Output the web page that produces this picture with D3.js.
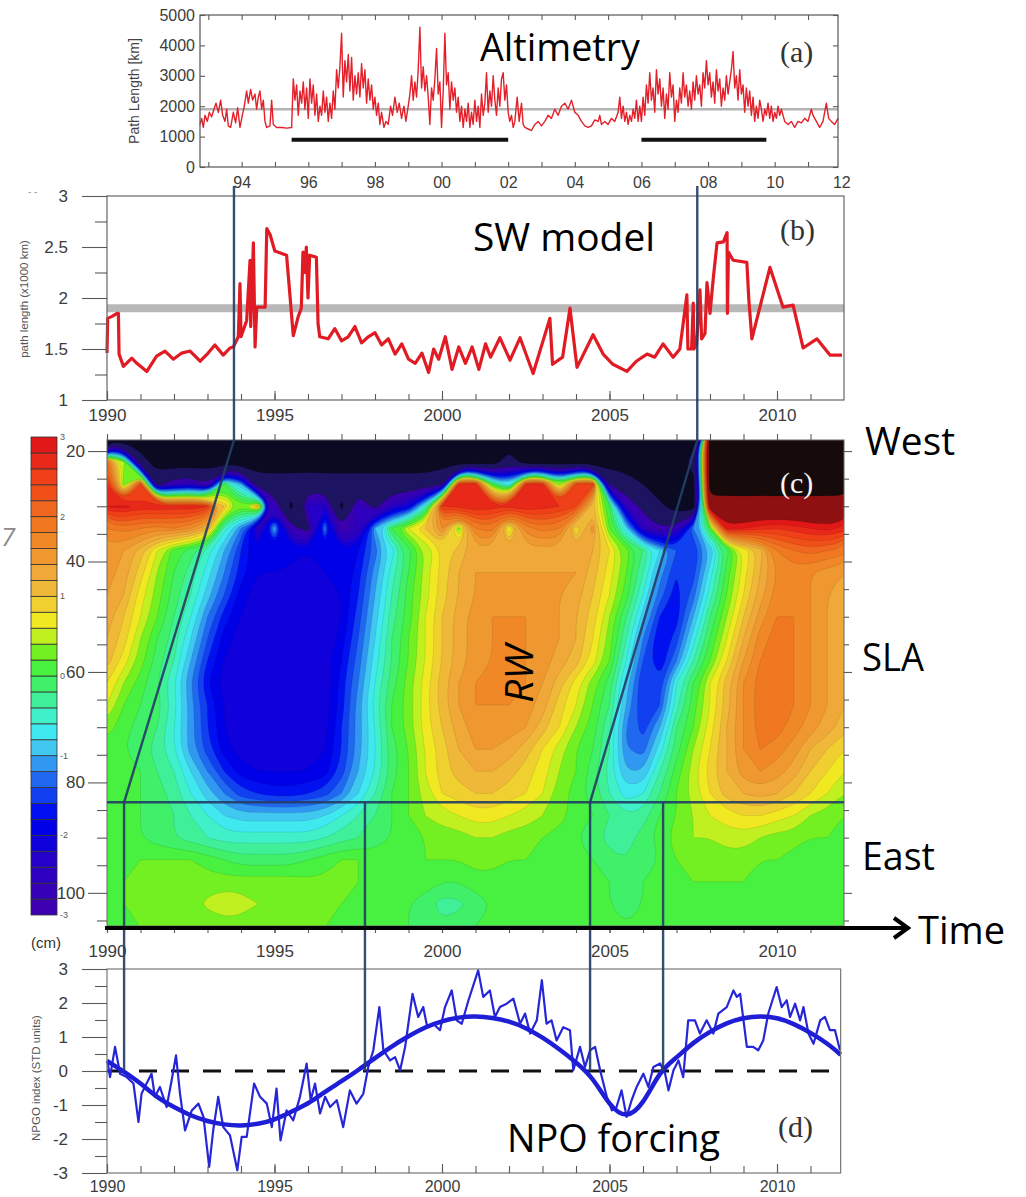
<!DOCTYPE html>
<html>
<head>
<meta charset="utf-8">
<script src="https://cdn.jsdelivr.net/npm/d3@7"></script>
<style>
  body { margin: 0; background: #fff; }
  svg { display: block; }
</style>
</head>
<body>
<svg id="chart" width="1026" height="1197"></svg>
<script>
// ---------- DATA ----------

// (a) altimetry path length [year, km]
const altimetry = [
  [1992.75,1400],[1992.8,1600],[1992.85,1300],[1992.9,1700],[1992.97,1500],[1993.03,1800],[1993.1,1650],[1993.17,1900],
  [1993.23,2100],[1993.3,1800],[1993.37,2200],[1993.43,1700],[1993.5,1500],[1993.55,1900],[1993.6,1350],[1993.67,1300],
  [1993.75,1800],[1993.82,1450],[1993.88,1950],[1993.95,1300],[1994.02,1700],[1994.08,2000],[1994.15,2500],[1994.2,2100],
  [1994.27,2550],[1994.33,2200],[1994.4,2400],[1994.45,1900],[1994.5,2300],[1994.55,2500],[1994.6,1900],[1994.65,2200],
  [1994.7,1500],[1994.75,1300],[1994.85,1350],[1994.9,2200],[1994.95,1400],[1995.05,1300],[1995.2,1300],[1995.35,1280],
  [1995.5,1300],[1995.55,2900],[1995.6,2200],[1995.65,2700],[1995.7,1700],[1995.75,2500],[1995.8,2100],[1995.85,2800],
  [1995.9,1900],[1995.95,2600],[1996.0,1600],[1996.05,2900],[1996.1,2100],[1996.15,2700],[1996.2,1700],[1996.25,2400],
  [1996.3,1500],[1996.35,2000],[1996.4,1700],[1996.45,2500],[1996.5,1800],[1996.55,2300],[1996.6,1500],[1996.65,2100],
  [1996.7,1600],[1996.75,2500],[1996.8,1900],[1996.85,3200],[1996.9,2600],[1996.95,3300],[1997.0,4400],[1997.05,2300],
  [1997.1,3500],[1997.15,2800],[1997.2,3700],[1997.25,2500],[1997.3,3600],[1997.35,2200],[1997.4,3000],[1997.45,2400],
  [1997.5,3100],[1997.55,2300],[1997.6,3400],[1997.65,2600],[1997.7,3200],[1997.75,2100],[1997.8,2900],[1997.85,2200],
  [1997.9,2700],[1997.95,1900],[1998.0,2300],[1998.05,1700],[1998.1,2100],[1998.15,1400],[1998.2,1800],[1998.27,1300],
  [1998.33,1500],[1998.4,1400],[1998.47,2000],[1998.53,1700],[1998.6,2300],[1998.67,1800],[1998.73,2100],[1998.8,1600],
  [1998.87,2000],[1998.93,1500],[1999.0,2000],[1999.05,2400],[1999.1,3000],[1999.15,2200],[1999.2,2800],[1999.25,2300],
  [1999.3,3200],[1999.35,4600],[1999.4,2600],[1999.45,3300],[1999.5,2500],[1999.55,3000],[1999.6,2300],[1999.65,1400],
  [1999.7,2600],[1999.75,2200],[1999.8,2900],[1999.85,3900],[1999.9,2400],[1999.95,2800],[2000.0,1300],[2000.05,2500],
  [2000.1,4400],[2000.15,2700],[2000.2,3100],[2000.25,1900],[2000.3,2800],[2000.35,2200],[2000.4,2600],[2000.45,1800],
  [2000.5,2300],[2000.55,1500],[2000.6,2000],[2000.65,1300],[2000.7,1900],[2000.75,1500],[2000.8,2100],[2000.85,1300],
  [2000.9,1800],[2000.95,1400],[2001.0,2200],[2001.05,1500],[2001.1,2000],[2001.15,1300],[2001.2,2400],[2001.25,1700],
  [2001.3,2100],[2001.35,3100],[2001.4,1800],[2001.45,2500],[2001.5,2000],[2001.55,3000],[2001.6,2200],[2001.65,1700],
  [2001.7,2600],[2001.75,2000],[2001.8,2900],[2001.85,3100],[2001.9,2200],[2001.95,2700],[2002.0,1800],[2002.05,1500],
  [2002.1,1700],[2002.15,1300],[2002.2,1500],[2002.27,2300],[2002.33,1500],[2002.4,2100],[2002.45,1400],[2002.5,1300],
  [2002.6,1250],[2002.7,1200],[2002.8,1400],[2002.9,1500],[2003.0,1350],[2003.1,1500],[2003.2,1700],[2003.3,1600],
  [2003.4,1900],[2003.5,1700],[2003.6,2000],[2003.7,2100],[2003.8,1900],[2003.9,2200],[2004.0,1800],[2004.1,1700],
  [2004.2,1500],[2004.3,1350],[2004.4,1300],[2004.5,1350],[2004.6,1550],[2004.7,1500],[2004.75,1700],[2004.8,1400],
  [2004.9,1500],[2005.0,1400],[2005.1,1600],[2005.2,1500],[2005.3,1800],[2005.35,2300],[2005.4,1600],[2005.45,2000],
  [2005.5,1500],[2005.55,1800],[2005.6,1400],[2005.65,1700],[2005.7,1500],[2005.75,1900],[2005.8,1600],[2005.85,2200],
  [2005.9,1500],[2005.95,2000],[2006.0,1500],[2006.05,2300],[2006.1,1700],[2006.15,2700],[2006.2,2100],[2006.25,3100],
  [2006.3,2200],[2006.35,2600],[2006.4,1800],[2006.45,3200],[2006.5,2400],[2006.55,2900],[2006.6,2000],[2006.65,2600],
  [2006.7,1600],[2006.75,2400],[2006.8,1900],[2006.85,3100],[2006.9,2300],[2006.95,2700],[2007.0,1500],[2007.05,2200],
  [2007.1,1800],[2007.15,2600],[2007.2,2100],[2007.25,3100],[2007.3,2300],[2007.35,2700],[2007.4,2000],[2007.45,2500],
  [2007.5,1900],[2007.55,2800],[2007.6,2200],[2007.65,3000],[2007.7,2400],[2007.75,2700],[2007.8,2000],[2007.85,3100],
  [2007.9,2600],[2007.95,3500],[2008.0,2700],[2008.05,3100],[2008.1,2300],[2008.15,2800],[2008.2,2100],[2008.25,3200],
  [2008.3,2500],[2008.35,2900],[2008.4,2000],[2008.45,2600],[2008.5,2200],[2008.55,3000],[2008.6,2400],[2008.65,2800],
  [2008.7,3200],[2008.75,3800],[2008.8,2600],[2008.85,3000],[2008.9,2200],[2008.95,3200],[2009.0,2400],[2009.05,2700],
  [2009.1,1800],[2009.15,2600],[2009.2,2000],[2009.25,2500],[2009.3,1700],[2009.35,2300],[2009.4,1500],[2009.45,2000],
  [2009.5,1600],[2009.55,2200],[2009.6,1900],[2009.65,1500],[2009.7,1900],[2009.75,1700],[2009.8,2100],[2009.85,1600],
  [2009.9,2000],[2009.95,1500],[2010.0,1800],[2010.05,1600],[2010.1,2000],[2010.15,1700],[2010.2,1900],[2010.3,1500],
  [2010.4,1400],[2010.5,1500],[2010.6,1300],[2010.7,1500],[2010.8,1450],[2010.9,1600],[2011.0,1500],[2011.1,1900],
  [2011.15,1700],[2011.25,1500],[2011.35,1300],[2011.45,1500],[2011.55,2100],[2011.62,1600],[2011.7,1500],[2011.8,1400],
  [2011.9,1600]
];
const altMean = 1900;
const altBars = [[1995.5, 2002.0], [2006.0, 2009.75]];
const altBarLevel = 900;
const aKmTicks = [0, 1000, 2000, 3000, 4000, 5000];
const aYearLabels = [1994, 1996, 1998, 2000, 2002, 2004, 2006, 2008, 2010, 2012];

// (b) SW model path length [year, x1000 km]
const swModel = [
  [1990.0,1.46],[1990.02,1.80],[1990.15,1.82],[1990.3,1.85],[1990.34,1.85],[1990.36,1.45],[1990.49,1.33],[1990.74,1.41],
  [1990.89,1.36],[1991.19,1.28],[1991.48,1.43],[1991.73,1.48],[1991.98,1.40],[1992.23,1.46],[1992.48,1.48],[1992.78,1.38],
  [1993.02,1.46],[1993.22,1.54],[1993.47,1.44],[1993.67,1.51],[1993.77,1.52],[1993.92,1.62],[1993.97,2.14],[1994.0,1.62],
  [1994.17,1.78],[1994.27,2.37],[1994.29,1.72],[1994.37,2.54],[1994.42,1.52],[1994.47,1.91],[1994.72,1.91],[1994.77,2.68],
  [1994.87,2.62],[1995.01,2.46],[1995.36,2.42],[1995.46,2.03],[1995.56,1.63],[1995.71,1.82],[1995.8,1.9],[1995.85,2.45],
  [1995.9,2.25],[1995.95,2.5],[1996.0,2.0],[1996.05,2.42],[1996.25,2.4],[1996.3,1.75],[1996.35,1.62],[1996.6,1.6],
  [1996.8,1.7],[1997.0,1.58],[1997.2,1.62],[1997.4,1.72],[1997.6,1.56],[1997.8,1.62],[1998.0,1.66],[1998.2,1.54],
  [1998.4,1.6],[1998.6,1.45],[1998.8,1.55],[1999.0,1.4],[1999.2,1.36],[1999.4,1.46],[1999.6,1.27],[1999.75,1.5],
  [1999.9,1.4],[2000.1,1.62],[2000.3,1.3],[2000.5,1.52],[2000.7,1.36],[2000.9,1.52],[2001.1,1.3],[2001.3,1.55],
  [2001.45,1.42],[2001.73,1.61],[2002.03,1.39],[2002.33,1.61],[2002.72,1.26],[2003.22,1.80],[2003.3,1.35],[2003.6,1.42],
  [2003.82,1.90],[2004.03,1.32],[2004.51,1.64],[2004.81,1.45],[2005.1,1.35],[2005.52,1.28],[2005.8,1.38],[2006.12,1.45],
  [2006.35,1.42],[2006.6,1.55],[2006.9,1.42],[2007.1,1.5],[2007.31,2.03],[2007.34,1.5],[2007.45,1.5],[2007.5,1.95],
  [2007.52,1.5],[2007.6,1.55],[2007.7,2.08],[2007.75,1.6],[2007.85,1.65],[2007.91,2.15],[2008.0,1.85],[2008.1,2.2],
  [2008.21,2.54],[2008.4,2.55],[2008.51,2.64],[2008.52,1.85],[2008.55,2.45],[2008.69,2.37],[2009.1,2.35],[2009.16,1.98],
  [2009.25,1.6],[2009.79,2.3],[2010.18,1.91],[2010.48,1.93],[2010.78,1.51],[2011.19,1.6],[2011.58,1.44],[2011.94,1.44]
];
const swMean = 1.9;
const bTicks = [1, 1.5, 2, 2.5, 3];
const bMinor = [1.25, 1.75, 2.25, 2.75];

// (c) SLA Hovmoller grid: rows = longitude, columns = time (cm)
const slaYears = [1990, 1990.5, 1991, 1991.5, 1992, 1992.5, 1993, 1993.5, 1994, 1994.5, 1995, 1995.5, 1996, 1996.5,
  1997, 1997.5, 1998, 1998.5, 1999, 1999.5, 2000, 2000.5, 2001, 2001.5, 2002, 2002.5, 2003, 2003.5, 2004, 2004.5,
  2005, 2005.5, 2006, 2006.5, 2007, 2007.5, 2008, 2008.5, 2009, 2009.5, 2010, 2010.5, 2011, 2011.5, 2012];
const slaLon = [18, 22, 26, 30, 34, 38, 42, 46, 50, 54, 58, 62, 66, 70, 74, 78, 82, 86, 90, 94, 98, 102, 106];
const slaRows = [
  [-4.5,-4.5,-4.5,-4.5,-4.5,-4.5,-4.5,-4.5,-4.5,-4.5, -4.5,-4.5,-4.5,-4.5,-4.5,-4.5,-4.5,-4.5,-4.5,-4.5, -4.5,-4.5,-4.5,-4.5,-4.5,-4.5,-4.5,-4.5,-4.5,-4.5, -4.5,-4.5,-4.5,-4.5,-4.5,-4.5,4.5,4.5,4.5,4.5, 4.5,4.5,4.5,4.5,4.5],
  [2.0,0.5,-3.5,-4.5,-4.5,-4.5,-4.5,-4.5,-4.5,-4.5, -4.5,-4.5,-4.5,-4.5,-4.5,-4.5,-4.5,-4.5,-4.5,-4.5, -4.5,-4.5,-4.5,-4.5,-3.5,-4.5,-4.5,-4.5,-4.5,-4.5, -4.5,-4.5,-4.5,-4.5,-4.5,-3.6,4.5,4.5,4.5,4.5, 4.5,4.5,4.5,4.5,4.5],
  [2.6,0.2,2.4,-3.2,-2.6,-2.4,-3.0,0.0,-1.0,-3.5, -3.5,-3.5,-3.4,-3.5,-3.5,-3.5,-3.5,-3.5,-3.5,-3.5, -3.0,2.6,2.8,0.0,-0.8,2.6,2.7,0.3,2.4,2.5, -3.0,-3.5,-4.0,-4.5,-4.5,-4.5,4.5,4.5,4.5,4.5, 4.5,4.5,4.5,4.5,4.5],
  [2.8,2.9,2.7,2.8,2.7,2.8,2.6,1.0,0.2,1.2, -2.6,-4.2,-2.4,-2.2,-4.2,-2.5,-3.2,-2.4,-2.0,-0.5, 2.6,2.7,2.8,2.7,2.6,2.8,2.7,2.6,2.4,1.0, 0.0,-2.5,-3.2,-3.8,-4.5,-4.5,3.6,3.5,3.6,3.5, 3.6,3.5,3.6,3.5,3.6],
  [1.8,1.9,1.8,1.7,1.8,1.6,1.2,-0.5,-1.2,-2.5, -1.0,-2.8,-3.2,-1.2,-3.0,-2.6,-1.0,0.0,0.6,1.0, 1.6,0.3,1.8,1.9,0.6,1.7,1.9,1.8,0.8,1.5, 0.2,-0.8,-2.4,-3.0,-2.6,-1.2,0.1,2.9,2.8,2.7, 2.6,2.7,2.8,2.9,2.7],
  [1.5,1.4,1.1,0.6,0.1,-0.1,-0.5,-1.0,-1.6,-2.0, -2.0,-1.8,-2.0,-2.0,-2.0,-1.8,-1.3,-0.7,-0.1,0.4, 0.8,1.1,1.3,1.3,1.3,1.3,1.3,1.3,1.3,1.2, 0.8,0.3,-0.2,-0.8,-1.4,-1.6,-1.0,-0.1,0.6,1.1, 1.8,2.0,2.1,2.0,1.9],
  [1.5,1.3,0.9,0.4,0.0,-0.3,-0.7,-1.2,-1.7,-2.0, -2.0,-2.1,-2.1,-2.0,-2.0,-1.7,-1.1,-0.5,0.0,0.5, 0.9,1.2,1.4,1.4,1.4,1.4,1.4,1.4,1.4,1.1, 0.7,0.2,-0.4,-1.1,-1.6,-1.5,-0.7,0.1,0.7,1.2, 1.6,1.7,1.6,1.5,1.4],
  [1.4,1.2,0.7,0.3,-0.1,-0.4,-0.9,-1.4,-1.9,-2.1, -2.1,-2.1,-2.1,-2.1,-2.0,-1.6,-1.0,-0.4,0.1,0.5, 0.9,1.2,1.4,1.5,1.5,1.5,1.5,1.4,1.3,1.0, 0.6,0.1,-0.6,-1.3,-1.7,-1.3,-0.5,0.2,0.8,1.3, 1.7,1.7,1.6,1.4,1.3],
  [1.3,1.0,0.6,0.2,-0.2,-0.6,-1.2,-1.7,-2.0,-2.2, -2.2,-2.2,-2.2,-2.2,-2.0,-1.5,-0.9,-0.3,0.1,0.6, 1.0,1.3,1.5,1.6,1.6,1.6,1.5,1.4,1.2,0.9, 0.4,-0.2,-0.9,-1.6,-1.7,-1.0,-0.2,0.4,1.0,1.5, 1.8,1.8,1.6,1.4,1.3],
  [1.2,0.9,0.4,0.0,-0.3,-0.8,-1.4,-1.9,-2.1,-2.2, -2.2,-2.2,-2.2,-2.2,-1.9,-1.4,-0.8,-0.2,0.2,0.6, 1.0,1.3,1.5,1.6,1.7,1.6,1.5,1.4,1.2,0.8, 0.3,-0.4,-1.2,-1.8,-1.5,-0.7,0.0,0.6,1.2,1.7, 1.9,1.8,1.6,1.4,1.3],
  [1.1,0.7,0.3,-0.1,-0.4,-1.0,-1.6,-2.0,-2.2,-2.2, -2.2,-2.2,-2.2,-2.1,-1.8,-1.3,-0.7,-0.2,0.2,0.6, 1.0,1.3,1.5,1.6,1.7,1.6,1.5,1.3,1.1,0.7, 0.2,-0.6,-1.4,-1.8,-1.2,-0.4,0.2,0.8,1.4,1.8, 1.9,1.8,1.6,1.4,1.3],
  [0.8,0.4,0.1,-0.2,-0.6,-1.2,-1.8,-2.1,-2.2,-2.2, -2.2,-2.2,-2.2,-2.2,-1.7,-1.2,-0.6,-0.1,0.3,0.7, 1.1,1.4,1.6,1.7,1.7,1.6,1.4,1.1,0.7,0.3, -0.1,-0.9,-1.6,-1.5,-0.6,0.0,0.6,1.1,1.6,1.9, 1.9,1.8,1.6,1.4,1.2],
  [0.6,0.2,0.0,-0.1,-0.5,-1.1,-1.6,-2.0,-2.2,-2.2, -2.2,-2.2,-2.2,-2.1,-1.7,-1.1,-0.5,0.0,0.3,0.7, 1.1,1.4,1.6,1.6,1.6,1.5,1.3,0.9,0.6,0.2, -0.2,-1.0,-1.6,-1.4,-0.5,0.1,0.6,1.1,1.6,1.9, 1.9,1.8,1.6,1.4,1.2],
  [0.3,0.1,-0.1,-0.2,-0.6,-1.1,-1.6,-2.0,-2.2,-2.2, -2.2,-2.2,-2.2,-2.1,-1.6,-1.1,-0.6,0.0,0.3,0.7, 1.0,1.3,1.5,1.5,1.5,1.4,1.1,0.8,0.4,0.1, -0.4,-1.2,-1.5,-1.0,-0.2,0.2,0.7,1.2,1.6,1.9, 1.9,1.7,1.5,1.3,1.1],
  [0.1,0.0,-0.1,-0.3,-0.6,-1.1,-1.5,-1.9,-2.1,-2.1, -2.1,-2.1,-2.1,-2.0,-1.6,-1.1,-0.6,-0.1,0.2,0.6, 0.9,1.2,1.4,1.4,1.3,1.1,0.8,0.5,0.2,0.0, -0.4,-1.2,-1.3,-0.7,-0.1,0.4,0.8,1.2,1.6,1.8, 1.7,1.5,1.2,1.0,0.8],
  [0.1,0.0,0.0,-0.2,-0.4,-0.8,-1.2,-1.6,-1.9,-2.0, -2.0,-2.0,-2.0,-1.9,-1.5,-1.0,-0.6,-0.1,0.2,0.6, 0.9,1.1,1.2,1.2,1.1,0.9,0.7,0.4,0.2,-0.1, -0.5,-1.0,-1.0,-0.4,0.1,0.5,0.9,1.2,1.5,1.6, 1.5,1.3,1.0,0.8,0.6],
  [0.1,0.0,0.0,-0.1,-0.3,-0.6,-0.9,-1.2,-1.5,-1.6, -1.7,-1.7,-1.6,-1.5,-1.2,-0.8,-0.4,0.0,0.2,0.5, 0.8,0.9,1.0,1.0,0.9,0.8,0.6,0.3,0.1,-0.1, -0.4,-0.7,-0.6,-0.2,0.2,0.5,0.8,1.1,1.2,1.3, 1.2,1.0,0.8,0.6,0.4],
  [0.1,0.0,0.0,-0.1,-0.2,-0.4,-0.6,-0.8,-0.9,-0.9, -0.9,-0.9,-0.9,-0.8,-0.6,-0.4,-0.2,0.0,0.2,0.4, 0.5,0.6,0.7,0.7,0.6,0.5,0.4,0.3,0.1,0.0, -0.2,-0.4,-0.3,0.0,0.2,0.4,0.6,0.7,0.8,0.8, 0.7,0.6,0.4,0.3,0.2],
  [0.1,0.1,0.0,-0.1,-0.2,-0.3,-0.4,-0.5,-0.5,-0.5, -0.5,-0.5,-0.5,-0.4,-0.3,-0.2,-0.1,0.0,0.1,0.2, 0.3,0.3,0.4,0.4,0.3,0.3,0.2,0.1,0.0,-0.1, -0.3,-0.3,-0.1,0.1,0.3,0.4,0.4,0.5,0.5,0.4, 0.3,0.3,0.2,0.2,0.1],
  [0.1,0.15,0.2,0.2,0.2,0.2,0.1,0.0,-0.1,-0.1, -0.1,-0.1,0.0,0.1,0.2,0.2,0.1,0.1,0.1,0.2, 0.2,0.2,0.3,0.3,0.2,0.2,0.1,0.1,0.0,0.0, -0.1,-0.2,-0.1,0.0,0.2,0.3,0.3,0.3,0.3,0.2, 0.2,0.1,0.1,0.1,0.1],
  [0.1,0.2,0.25,0.25,0.25,0.3,0.3,0.3,0.3,0.3, 0.3,0.3,0.25,0.25,0.2,0.2,0.1,0.1,0.1,0.1, 0.0,0.0,0.1,0.1,0.1,0.1,0.1,0.1,0.1,0.1, 0.0,-0.1,0.0,0.1,0.1,0.2,0.2,0.2,0.2,0.15, 0.1,0.1,0.1,0.1,0.1],
  [0.1,0.2,0.25,0.25,0.3,0.3,0.45,0.55,0.5,0.4, 0.3,0.3,0.25,0.25,0.2,0.15,0.1,0.1,0.0,-0.1, -0.3,-0.25,-0.1,0.0,0.1,0.1,0.1,0.1,0.1,0.1, 0.0,-0.1,0.0,0.1,0.1,0.1,0.1,0.1,0.1,0.1, 0.1,0.1,0.1,0.1,0.1],
  [0.1,0.15,0.2,0.2,0.2,0.2,0.25,0.3,0.3,0.25, 0.2,0.2,0.2,0.2,0.15,0.1,0.1,0.1,0.0,-0.1, -0.15,-0.1,0.0,0.1,0.1,0.1,0.1,0.1,0.1,0.1, 0.1,0.0,0.1,0.1,0.1,0.1,0.1,0.1,0.1,0.1, 0.1,0.1,0.1,0.1,0.1]
];
const slaLevels = [-4, -3, -2.8, -2.6, -2.4, -2.2, -2, -1.8, -1.6, -1.4, -1.2, -1, -0.8, -0.6, -0.4, -0.2, 0,
  0.2, 0.4, 0.6, 0.8, 1, 1.2, 1.4, 1.6, 1.8, 2, 2.2, 2.4, 2.6, 2.8, 3, 4];
const levelColors = ["#1c1460", "#3c00b0", "#3600b8", "#2e00c0", "#2400c8", "#1000dc", "#0000e8", "#0010f0", "#1040f0",
  "#2068f0", "#3098f0", "#40c8f0", "#40e8f0", "#40f0c8", "#40f098", "#40f068", "#48f040", "#72f022", "#c0f020",
  "#f0e820", "#f0d030", "#f0b838", "#f0a838", "#f09830", "#f08828", "#f07820", "#f06820", "#f05018", "#f04018",
  "#e82818", "#e01818", "#8e1010", "#160a0a"];
const belowColor = "#0a0a22";
const cLonTicks = [20, 40, 60, 80, 100];
const cLonMinor = [25, 30, 35, 45, 50, 55, 65, 70, 75, 85, 90, 95, 105];
const barTicks = [-3, -2, -1, 0, 1, 2, 3];

// (d) NPGO index [year, STD units]
const npgo = [
  [1990.01,0.31],[1990.09,-0.18],[1990.24,0.71],[1990.39,-0.08],[1990.59,-0.18],[1990.79,-0.37],[1990.94,-1.5],[1991.03,-0.67],
  [1991.18,-0.37],[1991.33,-0.08],[1991.43,-0.76],[1991.58,-0.47],[1991.78,-1.06],[1991.93,-0.27],[1992.06,0.46],[1992.18,-0.67],
  [1992.33,-1.75],[1992.53,-1.16],[1992.73,-0.96],[1992.88,-1.35],[1993.05,-2.82],[1993.17,-1.75],[1993.32,-0.76],[1993.47,-1.65],
  [1993.67,-1.89],[1993.89,-2.92],[1994.02,-1.94],[1994.17,-1.94],[1994.39,-0.37],[1994.57,-0.76],[1994.77,-0.96],[1994.92,-1.65],
  [1995.06,-0.52],[1995.18,-2.04],[1995.36,-1.16],[1995.56,-1.45],[1995.76,-0.76],[1995.96,0.22],[1996.08,-0.86],[1996.21,-0.37],
  [1996.36,-1.25],[1996.51,-0.76],[1996.66,-1.06],[1996.86,-0.86],[1997.05,-1.65],[1997.25,-0.57],[1997.45,-0.96],[1997.65,-0.67],
  [1997.8,0.12],[1997.95,0.61],[1998.13,1.88],[1998.25,0.61],[1998.45,0.31],[1998.6,0.41],[1998.75,0.02],[1998.9,0.71],
  [1999.12,2.27],[1999.29,1.59],[1999.44,1.88],[1999.56,1.29],[1999.74,1.39],[1999.94,1.2],[2000.09,1.88],[2000.29,2.37],
  [2000.44,1.49],[2000.59,1.39],[2000.79,2.08],[2001.08,2.96],[2001.23,2.18],[2001.43,2.37],[2001.58,1.59],[2001.73,1.88],
  [2001.93,1.98],[2002.13,2.13],[2002.33,1.39],[2002.48,1.69],[2002.63,1.1],[2002.83,1.49],[2002.98,2.67],[2003.12,1.39],
  [2003.27,1.49],[2003.42,0.9],[2003.62,1.29],[2003.82,1.2],[2003.92,0.02],[2004.12,0.71],[2004.27,0.12],[2004.42,0.61],
  [2004.57,0.71],[2004.72,0.02],[2004.92,-0.76],[2005.07,-1.16],[2005.21,-1.06],[2005.36,-0.57],[2005.51,-1.35],[2005.66,-0.86],
  [2005.81,-0.47],[2006.01,-0.08],[2006.16,-0.47],[2006.31,0.12],[2006.51,0.22],[2006.66,-0.08],[2006.76,-0.57],[2006.91,0.02],
  [2007.06,0.31],[2007.2,-0.18],[2007.35,1.49],[2007.55,1.49],[2007.7,1.1],[2007.9,1.49],[2008.1,1.1],[2008.25,1.69],
  [2008.5,1.88],[2008.7,2.37],[2008.8,2.18],[2008.9,2.27],[2009.1,0.71],[2009.29,0.71],[2009.44,0.61],[2009.59,0.9],
  [2009.74,1.69],[2009.99,2.47],[2010.14,1.88],[2010.29,2.08],[2010.39,1.59],[2010.54,1.98],[2010.69,1.49],[2010.79,1.88],
  [2010.94,1.1],[2011.09,0.8],[2011.29,1.49],[2011.43,1.59],[2011.58,1.2],[2011.73,1.2],[2011.88,0.61]
];
const npgoSmooth = [
  [1990.0,0.3],[1990.5,-0.02],[1991.0,-0.37],[1991.5,-0.76],[1992.0,-1.06],[1992.5,-1.3],[1993.0,-1.47],[1993.5,-1.57],
  [1994.0,-1.6],[1994.5,-1.55],[1995.0,-1.42],[1995.5,-1.2],[1996.0,-0.95],[1996.5,-0.62],[1997.0,-0.3],[1997.5,0.03],
  [1998.0,0.38],[1998.5,0.72],[1999.0,1.02],[1999.5,1.28],[2000.0,1.46],[2000.5,1.57],[2001.0,1.6],[2001.5,1.56],
  [2002.0,1.45],[2002.5,1.26],[2003.0,0.98],[2003.5,0.64],[2004.0,0.25],[2004.5,-0.25],[2005.0,-0.95],[2005.5,-1.28],
  [2006.0,-0.9],[2006.5,-0.1],[2007.0,0.4],[2007.5,0.82],[2008.0,1.15],[2008.5,1.4],[2009.0,1.55],[2009.5,1.6],
  [2010.0,1.55],[2010.5,1.38],[2011.0,1.12],[2011.5,0.8],[2011.9,0.48]
];
const dTicks = [-3, -2, -1, 0, 1, 2, 3];
const dMinor = [-2.5, -1.5, -0.5, 0.5, 1.5, 2.5];
const tYearLabels = [1990, 1995, 2000, 2005, 2010];
const tYears = [1990, 1991, 1992, 1993, 1994, 1995, 1996, 1997, 1998, 1999, 2000, 2001, 2002, 2003, 2004, 2005,
  2006, 2007, 2008, 2009, 2010, 2011];

// annotation: propagation lines (start year at the top, year where they hit the east line)
const linkLon = 83.6;
const lagLines = [{ start: 1993.79, end: 1990.51 }, { start: 2007.62, end: 2004.42 }];
const dropYears = [1997.7, 2006.6];

if (slaRows.some(r => r.length !== slaYears.length) || slaRows.length !== slaLon.length) throw new Error("grid size");

// ---------- SCALES ----------
const svg = d3.select("#chart");
const xA = d3.scaleLinear().domain([1992.75, 2011.9]).range([200, 838]);
const yA = d3.scaleLinear().domain([0, 5000]).range([167, 15]);
const xT = d3.scaleLinear().domain([1990, 2012]).range([107, 844]);
const yB = d3.scaleLinear().domain([1, 3]).range([400, 196]);
const yC = d3.scaleLinear().domain([18, 106]).range([440, 926]);
const yD = d3.scaleLinear().domain([-3, 3]).range([1173, 969]);
const yBar = d3.scaleLinear().domain([-3, 3]).range([915, 437]);

const tickFont = "'Liberation Sans', Arial, Helvetica, sans-serif";
const bigFont = "'Open Sans', 'Noto Sans', sans-serif";
const plain = d => String(d);

function putAxis(gen, x, y, size) {
  const g = svg.append("g").attr("transform", `translate(${x},${y})`).call(gen);
  g.select(".domain").remove();
  g.selectAll(".tick line").attr("stroke", "#5a5a5a").attr("stroke-width", 1.1);
  g.selectAll(".tick text").attr("fill", "#3c3c3c").attr("font-size", size || 17).attr("font-family", tickFont);
  return g;
}

function bigText(str, x, y, len) {
  const t = svg.append("text").attr("x", x).attr("y", y).text(str)
    .attr("font-family", bigFont).attr("font-size", 38).attr("fill", "#000");
  if (len) t.attr("textLength", len).attr("lengthAdjust", "spacingAndGlyphs");
  return t;
}

function panelTag(str, x, y, fill) {
  svg.append("text").attr("x", x).attr("y", y).text(str)
    .attr("font-family", "'Liberation Serif', 'DejaVu Serif', serif").attr("font-size", 30)
    .attr("fill", fill || "#333");
}

// ---------- PANEL (a) ----------
svg.append("line").attr("x1", xA(1992.75)).attr("x2", xA(2011.9)).attr("y1", yA(altMean)).attr("y2", yA(altMean))
  .attr("stroke", "#b4b4b4").attr("stroke-width", 2.5);
svg.append("path").datum(altimetry)
  .attr("d", d3.line().x(d => xA(d[0])).y(d => yA(d[1])))
  .attr("fill", "none").attr("stroke", "#e3202a").attr("stroke-width", 1.4).attr("stroke-linejoin", "round");
svg.selectAll(".altbar").data(altBars).join("line")
  .attr("x1", d => xA(d[0])).attr("x2", d => xA(d[1]))
  .attr("y1", yA(altBarLevel)).attr("y2", yA(altBarLevel))
  .attr("stroke", "#111").attr("stroke-width", 4);
svg.append("rect").attr("x", xA(1992.75)).attr("y", yA(5000))
  .attr("width", xA(2011.9) - xA(1992.75)).attr("height", yA(0) - yA(5000))
  .attr("fill", "none").attr("stroke", "#555").attr("stroke-width", 1.2);
putAxis(d3.axisBottom(xA).tickValues(d3.range(1993, 2012)).tickSize(-5).tickFormat(""), 0, yA(0));
putAxis(d3.axisTop(xA).tickValues(d3.range(1993, 2012)).tickSize(-5).tickFormat(""), 0, yA(5000));
putAxis(d3.axisBottom(xA).tickValues(aYearLabels).tickSize(0).tickPadding(10)
  .tickFormat(d => String(d % 100).padStart(2, "0")), 0, yA(0), 16);
putAxis(d3.axisLeft(yA).tickValues(aKmTicks).tickSize(-5).tickPadding(5).tickFormat(plain), xA(1992.75), 0, 16);
putAxis(d3.axisRight(yA).tickValues(aKmTicks).tickSize(-5).tickFormat(""), xA(2011.9), 0);
svg.append("text").attr("transform", "translate(139,91) rotate(-90)").attr("text-anchor", "middle")
  .attr("font-family", tickFont).attr("font-size", 14).attr("fill", "#444").text("Path Length [km]");
bigText("Altimetry", 480, 61, 160);
panelTag("(a)", 780, 62);

// ---------- PANEL (b) ----------
svg.append("line").attr("x1", xT(1990)).attr("x2", xT(2012)).attr("y1", yB(swMean)).attr("y2", yB(swMean))
  .attr("stroke", "#b8b8b8").attr("stroke-width", 8);
svg.append("path").datum(swModel)
  .attr("d", d3.line().x(d => xT(d[0])).y(d => yB(d[1])))
  .attr("fill", "none").attr("stroke", "#e11b24").attr("stroke-width", 3.2).attr("stroke-linejoin", "round");
svg.append("rect").attr("x", xT(1990)).attr("y", yB(3)).attr("width", xT(2012) - xT(1990)).attr("height", yB(1) - yB(3))
  .attr("fill", "none").attr("stroke", "#666").attr("stroke-width", 1.2);
putAxis(d3.axisLeft(yB).tickValues(bTicks).tickSize(25).tickPadding(14).tickFormat(plain), xT(1990), 0);
putAxis(d3.axisLeft(yB).tickValues(bMinor).tickSize(12).tickFormat(""), xT(1990), 0);
putAxis(d3.axisBottom(xT).tickValues(tYears).tickSize(-6).tickFormat(""), 0, yB(1));
putAxis(d3.axisBottom(xT).tickValues(tYearLabels).tickSize(-9).tickPadding(9).tickFormat(plain), 0, yB(1));
svg.append("text").attr("transform", "translate(28,299) rotate(-90)").attr("text-anchor", "middle")
  .attr("font-family", tickFont).attr("font-size", 11.5).attr("fill", "#555").text("path length (x1000 km)");
svg.append("text").attr("x", 28).attr("y", 195).attr("font-family", tickFont).attr("font-size", 10)
  .attr("fill", "#999").text("- -");
bigText("SW model", 473, 251, 182);
panelTag("(b)", 780, 240);

// ---------- PANEL (c) ----------
svg.append("clipPath").attr("id", "clipC").append("rect")
  .attr("x", xT(1990)).attr("y", yC(18)).attr("width", xT(2012) - xT(1990)).attr("height", yC(106) - yC(18));
const gC = svg.append("g").attr("clip-path", "url(#clipC)");
gC.append("rect").attr("x", xT(1990)).attr("y", yC(18)).attr("width", xT(2012) - xT(1990))
  .attr("height", yC(106) - yC(18)).attr("fill", belowColor);
// grid index -> data coordinates (sample i sits at i + 0.5)
const gx = d3.scaleLinear().domain([0.5, slaYears.length - 0.5]).range([slaYears[0], slaYears[slaYears.length - 1]]);
const gy = d3.scaleLinear().domain([0.5, slaLon.length - 0.5]).range([slaLon[0], slaLon[slaLon.length - 1]]);
const ringLine = d3.line().curve(d3.curveBasisClosed).x(p => xT(gx(p[0]))).y(p => yC(gy(p[1])));
const contourD = mp => mp.coordinates.map(poly => poly.map(ring => ringLine(ring.slice(0, -1))).join("")).join("");
const slaContours = d3.contours().size([slaYears.length, slaLon.length]).thresholds(slaLevels)(slaRows.flat());
gC.selectAll("path").data(slaContours).join("path")
  .attr("d", contourD)
  .attr("fill-rule", "evenodd")
  .attr("fill", (d, i) => levelColors[i])
  .attr("stroke", "rgba(0,0,0,0.13)").attr("stroke-width", 0.7);
svg.append("rect").attr("x", xT(1990)).attr("y", yC(18)).attr("width", xT(2012) - xT(1990))
  .attr("height", yC(106) - yC(18)).attr("fill", "none").attr("stroke", "#666").attr("stroke-width", 1);
putAxis(d3.axisLeft(yC).tickValues(cLonTicks).tickSize(19).tickPadding(3).tickFormat(plain), xT(1990), 0);
putAxis(d3.axisLeft(yC).tickValues(cLonMinor).tickSize(10).tickFormat(""), xT(1990), 0);
putAxis(d3.axisRight(yC).tickValues(cLonTicks).tickSize(8).tickFormat(""), xT(2012), 0);
putAxis(d3.axisRight(yC).tickValues(cLonMinor).tickSize(5).tickFormat(""), xT(2012), 0);
putAxis(d3.axisTop(xT).tickValues(tYears).tickSize(6).tickFormat(""), 0, yC(18));
putAxis(d3.axisBottom(xT).tickValues(tYears).tickSize(7).tickFormat(""), 0, yC(106));
putAxis(d3.axisBottom(xT).tickValues(tYearLabels).tickSize(7).tickPadding(12).tickFormat(plain), 0, yC(106));
panelTag("(c)", 780, 493, "#f4f4f4");

// colour bar
const bars = slaLevels.slice(1, 31).map((lv, i) => ({ lo: lv, hi: slaLevels[i + 2], color: levelColors[i + 1] }));
svg.selectAll(".cb").data(bars).join("rect")
  .attr("x", 31).attr("width", 26)
  .attr("y", d => yBar(d.hi)).attr("height", d => yBar(d.lo) - yBar(d.hi))
  .attr("fill", d => d.color).attr("stroke", "#333").attr("stroke-width", 0.8);
svg.selectAll(".cbt").data(barTicks).join("text")
  .attr("x", 60).attr("y", d => yBar(d) + 3).text(plain)
  .attr("font-family", tickFont).attr("font-size", 9).attr("fill", "#555");
svg.append("text").attr("x", 46).attr("y", 948).attr("text-anchor", "middle")
  .attr("font-family", tickFont).attr("font-size", 15).attr("fill", "#333").text("(cm)");
svg.append("text").attr("x", 1).attr("y", 546).attr("font-family", bigFont).attr("font-style", "italic")
  .attr("font-size", 26).attr("fill", "#8a8a8a").text("7");

// ---------- PANEL (d) ----------
svg.append("line").attr("x1", xT(1990)).attr("x2", xT(2011.9)).attr("y1", yD(0)).attr("y2", yD(0))
  .attr("stroke", "#111").attr("stroke-width", 3).attr("stroke-dasharray", "18,14");
svg.append("path").datum(npgo)
  .attr("d", d3.line().x(d => xT(d[0])).y(d => yD(d[1])))
  .attr("fill", "none").attr("stroke", "#2626d8").attr("stroke-width", 2.2).attr("stroke-linejoin", "round");
svg.append("path").datum(npgoSmooth)
  .attr("d", d3.line().curve(d3.curveNatural).x(d => xT(d[0])).y(d => yD(d[1])))
  .attr("fill", "none").attr("stroke", "#1e1ed6").attr("stroke-width", 4.5);
svg.append("rect").attr("x", xT(1990)).attr("y", yD(3)).attr("width", xT(2011.9) - xT(1990)).attr("height", yD(-3) - yD(3))
  .attr("fill", "none").attr("stroke", "#777").attr("stroke-width", 1.2);
putAxis(d3.axisLeft(yD).tickValues(dTicks).tickSize(25).tickPadding(14).tickFormat(plain), xT(1990), 0);
putAxis(d3.axisLeft(yD).tickValues(dMinor).tickSize(12).tickFormat(""), xT(1990), 0);
putAxis(d3.axisBottom(xT).tickValues(tYears).tickSize(-7).tickFormat(""), 0, yD(-3));
putAxis(d3.axisBottom(xT).tickValues(tYearLabels).tickSize(-9).tickPadding(8).tickFormat(plain), 0, yD(-3), 16);
svg.append("text").attr("transform", "translate(40,1078) rotate(-90)").attr("text-anchor", "middle")
  .attr("font-family", tickFont).attr("font-size", 11.5).attr("fill", "#555").text("NPGO index (STD units)");
panelTag("(d)", 778, 1137);

// ---------- ANNOTATIONS ----------
const ann = svg.append("g").attr("fill", "none").attr("stroke", "#243f66").attr("stroke-width", 2.4)
  .attr("stroke-opacity", 0.92);
ann.selectAll(".lag").data(lagLines).join("path")
  .attr("d", d => `M${xT(d.start)},${yA(0) + 19}L${xT(d.start)},${yC(18)}L${xT(d.end)},${yC(linkLon)}L${xT(d.end)},${yD(0)}`);
ann.selectAll(".drop").data(dropYears).join("path")
  .attr("d", d => `M${xT(d)},${yC(linkLon)}L${xT(d)},${yD(0)}`);
ann.append("path").attr("d", `M${xT(1990)},${yC(linkLon)}L${xT(2012)},${yC(linkLon)}`);

// time arrow
const arrowY = yC(106) + 2;
const arrowEnd = xT(2012) + 63;
svg.append("line").attr("x1", xT(1990) - 2).attr("x2", arrowEnd).attr("y1", arrowY).attr("y2", arrowY)
  .attr("stroke", "#000").attr("stroke-width", 4);
svg.append("path").attr("d", `M${arrowEnd - 13},${arrowY - 10}L${arrowEnd + 1},${arrowY}L${arrowEnd - 13},${arrowY + 10}`)
  .attr("fill", "none").attr("stroke", "#000").attr("stroke-width", 4);

// overlay words
bigText("West", 865, 455, 90);
bigText("SLA", 862, 671, 62);
bigText("East", 862, 870, 73);
bigText("Time", 918, 944, 87);
bigText("NPO forcing", 507, 1152, 213);
bigText("RW", 0, 0, 58).attr("transform", "translate(533,703) rotate(-90)").attr("font-style", "italic");
</script>
</body>
</html>
